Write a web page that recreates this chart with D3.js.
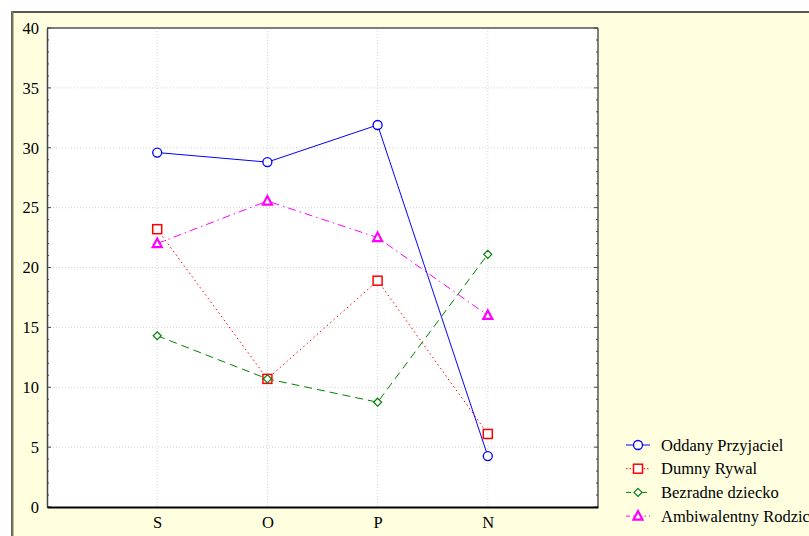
<!DOCTYPE html>
<html><head><meta charset="utf-8">
<script src="https://cdn.jsdelivr.net/npm/d3@7"></script>
<style>body{margin:0;background:#fff}svg{display:block}text{font-family:"Liberation Serif","Times New Roman",serif}</style>
</head><body>
<script>
const categories = ["S","O","P","N"];
const seriesNames = ["Oddany Przyjaciel","Dumny Rywal","Bezradne dziecko","Ambiwalentny Rodzic"];
const oddany = [29.6, 28.8, 31.9, 4.25];
const dumny = [23.2, 10.7, 18.9, 6.1];
const bezradne = [14.3, 10.7, 8.75, 21.1];
const ambiwalentny = [22.0, 25.55, 22.5, 16.0];
const yTicks = [0,5,10,15,20,25,30,35,40];
const colors = ["#0000ff","#ff0000","#008000","#ff00ff"];
const dashes = [null, "1.5,3", "8,5", "8,4,1.5,4"];
const markers = ["circle","square","diamond","triangle"];
const values = [oddany, dumny, bezradne, ambiwalentny];

const W = 809, H = 536;
const svg = d3.select("body").append("svg").attr("width", W).attr("height", H);
svg.append("rect").attr("x", 12).attr("y", 12).attr("width", W).attr("height", H)
  .attr("fill", "#ffffe0").attr("stroke", "#222").attr("stroke-width", 1.5);
svg.append("line").attr("x1", 12.5).attr("x2", 12.5).attr("y1", 12).attr("y2", H)
  .attr("stroke", "#77775a").attr("stroke-width", 2);

const L = 47, R = 598, T = 28, B = 507;
const x = d3.scaleLinear().domain([0, 5]).range([L, R]);
const y = d3.scaleLinear().domain([0, 40]).range([B, T]);

svg.append("rect").attr("x", L).attr("y", T).attr("width", R - L).attr("height", B - T).attr("fill", "#fff");

// grid
const g = svg.append("g");
g.selectAll(".hg").data(yTicks.filter(d => d > 0 && d < 40)).join("line")
  .attr("x1", L).attr("x2", R).attr("y1", d => y(d)).attr("y2", d => y(d))
  .attr("stroke", "#d4d4d4").attr("stroke-width", 1).attr("stroke-dasharray", "1,2");
g.selectAll(".vg").data(categories).join("line")
  .attr("x1", (d, i) => x(i + 1)).attr("x2", (d, i) => x(i + 1)).attr("y1", T).attr("y2", B)
  .attr("stroke", "#d4d4d4").attr("stroke-width", 1).attr("stroke-dasharray", "1,2");

// frame
svg.append("line").attr("x1", L).attr("x2", R).attr("y1", T).attr("y2", T).attr("stroke", "#555").attr("stroke-width", 1.5);
svg.append("line").attr("x1", R).attr("x2", R).attr("y1", T).attr("y2", B).attr("stroke", "#555").attr("stroke-width", 1.5);

// left axis
const yAxis = d3.axisLeft(y).tickValues(yTicks).tickSize(0).tickPadding(8).tickFormat(d3.format("d"));
const ya = svg.append("g").attr("transform", `translate(${L},0)`).call(yAxis);
ya.select(".domain").attr("stroke", "#444").attr("stroke-width", 1.5);
ya.selectAll("text").attr("font-size", 16.5).attr("fill", "#000").attr("font-family", "Liberation Serif");
// minor ticks inside on left and right
const minor = d3.range(0, 41, 1);
svg.append("g").selectAll("line").data(minor).join("line")
  .attr("x1", L).attr("x2", d => L + (d % 5 === 0 ? 4 : 2)).attr("y1", d => y(d)).attr("y2", d => y(d))
  .attr("stroke", "#444").attr("stroke-width", 1);
svg.append("g").selectAll("line").data(minor).join("line")
  .attr("x1", R).attr("x2", d => R - (d % 5 === 0 ? 4 : 2)).attr("y1", d => y(d)).attr("y2", d => y(d))
  .attr("stroke", "#444").attr("stroke-width", 1);

// bottom axis
const xAxis = d3.axisBottom(x).tickValues([1,2,3,4]).tickSize(0).tickPadding(9).tickFormat(d => categories[d - 1]);
const xa = svg.append("g").attr("transform", `translate(0,${B})`).call(xAxis);
xa.select(".domain").attr("stroke", "#000").attr("stroke-width", 2);
xa.selectAll("text").attr("font-size", 16.5).attr("fill", "#000").attr("font-family", "Liberation Serif");

function drawMarker(sel, type, color) {
  if (type === "circle") {
    sel.append("circle").attr("r", 4.5).attr("fill", "#fff").attr("stroke", color).attr("stroke-width", 1.3);
  } else if (type === "square") {
    sel.append("rect").attr("x", -4.5).attr("y", -4.5).attr("width", 9).attr("height", 9)
      .attr("fill", "#fff").attr("stroke", color).attr("stroke-width", 1.5);
  } else if (type === "diamond") {
    sel.append("path").attr("d", "M0,-4 L4,0 L0,4 L-4,0 Z").attr("fill", "#fff").attr("stroke", color).attr("stroke-width", 1.2);
  } else {
    sel.append("path").attr("d", "M0,-5 L4.5,3.5 L-4.5,3.5 Z").attr("fill", "#fff").attr("stroke", color).attr("stroke-width", 2.2);
  }
}

const line = d3.line().x((d, i) => x(i + 1)).y(d => y(d));
values.forEach((vals, s) => {
  svg.append("path").datum(vals).attr("d", line).attr("fill", "none")
    .attr("stroke", colors[s]).attr("stroke-width", 1).attr("stroke-dasharray", dashes[s]);
});
values.forEach((vals, s) => {
  vals.forEach((v, i) => {
    const m = svg.append("g").attr("transform", `translate(${x(i + 1)},${y(v)})`);
    drawMarker(m, markers[s], colors[s]);
  });
});

// legend
const lg = svg.append("g");
seriesNames.forEach((name, s) => {
  const yy = 445 + s * 23.7;
  lg.append("line").attr("x1", 626).attr("x2", 650).attr("y1", yy).attr("y2", yy)
    .attr("stroke", colors[s]).attr("stroke-width", 1).attr("stroke-dasharray", dashes[s] ? (s === 1 ? "1.5,2" : s === 2 ? "5,3" : "4,3,1.5,3") : null);
  const m = lg.append("g").attr("transform", `translate(638,${yy})`);
  drawMarker(m, markers[s], colors[s]);
  lg.append("text").attr("x", 661).attr("y", yy + 5.5).attr("font-size", 16.5).attr("fill", "#000").text(name);
});
</script>
</body></html>
